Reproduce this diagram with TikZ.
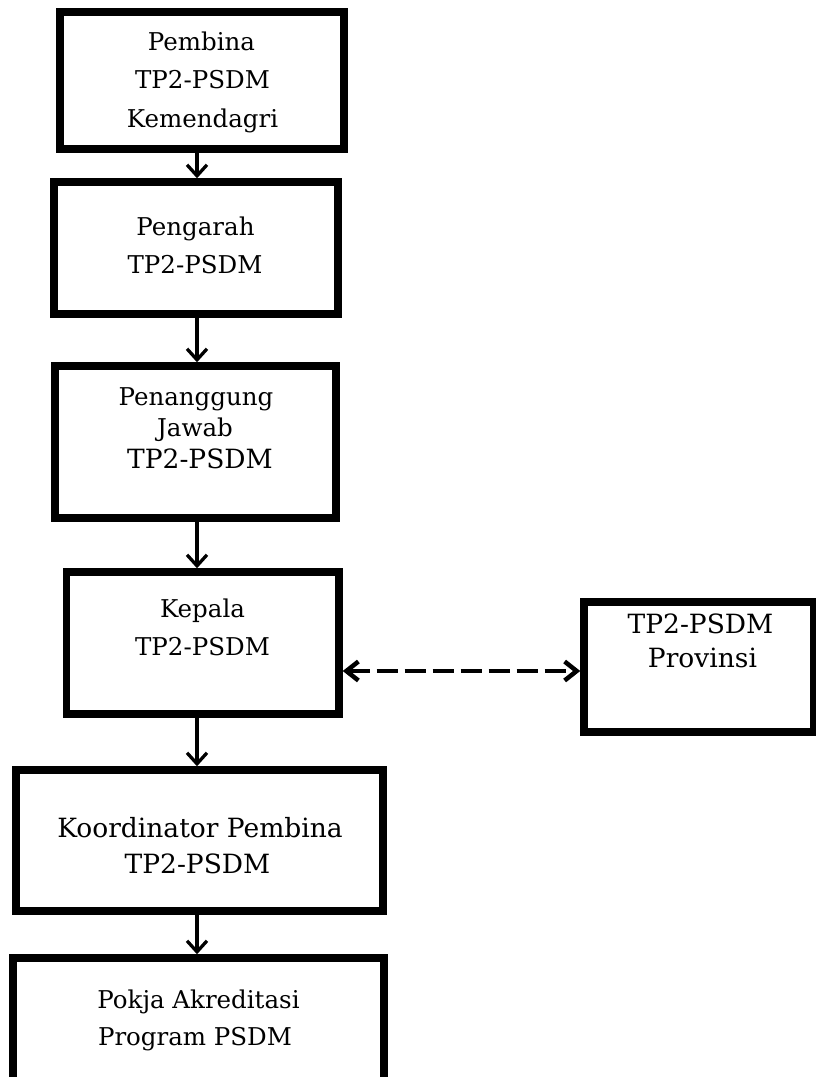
\documentclass[tikz,border=0pt]{standalone}
\usepackage{fontspec}
\setmainfont{DejaVu Serif}
\usetikzlibrary{arrows.meta}
\tikzset{
  box/.style={draw=black, line width=7.5pt, rectangle, inner sep=0pt, fill=white},
  lbl/.style={anchor=base, inner sep=0pt, font=\fontsize{24.5}{28}\selectfont},
  lblbig/.style={anchor=base, inner sep=0pt, font=\fontsize{26.5}{30}\selectfont},
  down/.style={line width=3.3pt, -{Straight Barb[length=11pt,width=20pt]}},
  link/.style={line width=4.5pt, dash pattern=on 21pt off 7pt,
    {Straight Barb[length=12pt,width=19pt]}-{Straight Barb[length=12pt,width=19pt]}}
}
\begin{document}
\begin{tikzpicture}[x=1pt,y=-1pt]
\useasboundingbox (0,0) rectangle (815,1077);
\fill[white] (0,0) rectangle (815,1077);
% boxes
\node[box, minimum width=284pt, minimum height=137pt] (b1) at (202,80.5) {};
\node[box, minimum width=284pt, minimum height=132pt] (b2) at (196,248) {};
\node[box, minimum width=281pt, minimum height=152pt] (b3) at (195.5,442) {};
\node[box, minimum width=272.5pt, minimum height=142pt] (b4) at (202.75,643) {};
\node[box, minimum width=367pt, minimum height=141pt] (b5) at (199.5,840.5) {};
\node[box, minimum width=371pt, minimum height=142pt] (b6) at (198.5,1029) {};
\node[box, minimum width=230pt, minimum height=130pt] (b7) at (699,667) {};
% labels
\node[lbl] (t1a) at (201.5,50) {Pembina};
\node[lbl] (t1b) at (202.5,88) {TP2-PSDM};
\node[lbl] (t1c) at (202.5,127) {Kemendagri};
\node[lbl] (t2a) at (195.5,235) {Pengarah};
\node[lbl] (t2b) at (195,273) {TP2-PSDM};
\node[lbl] (t3a) at (196,405) {Penanggung};
\node[lbl] (t3b) at (195,436) {Jawab};
\node[lblbig] (t3c) at (200,468) {TP2-PSDM};
\node[lbl] (t4a) at (202.5,617) {Kepala};
\node[lbl] (t4b) at (202.5,655) {TP2-PSDM};
\node[lblbig] (t5a) at (200,837) {Koordinator Pembina};
\node[lblbig] (t5b) at (197.5,873) {TP2-PSDM};
\node[lbl] (t6a) at (198.5,1008) {Pokja Akreditasi};
\node[lbl] (t6b) at (195,1045) {Program PSDM};
\node[lblbig] (t7a) at (700.5,633) {TP2-PSDM};
\node[lblbig] (t7b) at (702.5,667) {Provinsi};
% connectors
\coordinate (ax) at (197,0);
\coordinate (dy) at (0,671);
\draw[down] (b1.south -| ax) -- (b2.north -| ax);
\draw[down] (b2.south -| ax) -- (b3.north -| ax);
\draw[down] (b3.south -| ax) -- (b4.north -| ax);
\draw[down] (b4.south -| ax) -- (b5.north -| ax);
\draw[down] (b5.south -| ax) -- (b6.north -| ax);
\draw[link] (b4.east |- dy) -- (b7.west |- dy);
\end{tikzpicture}
\end{document}
